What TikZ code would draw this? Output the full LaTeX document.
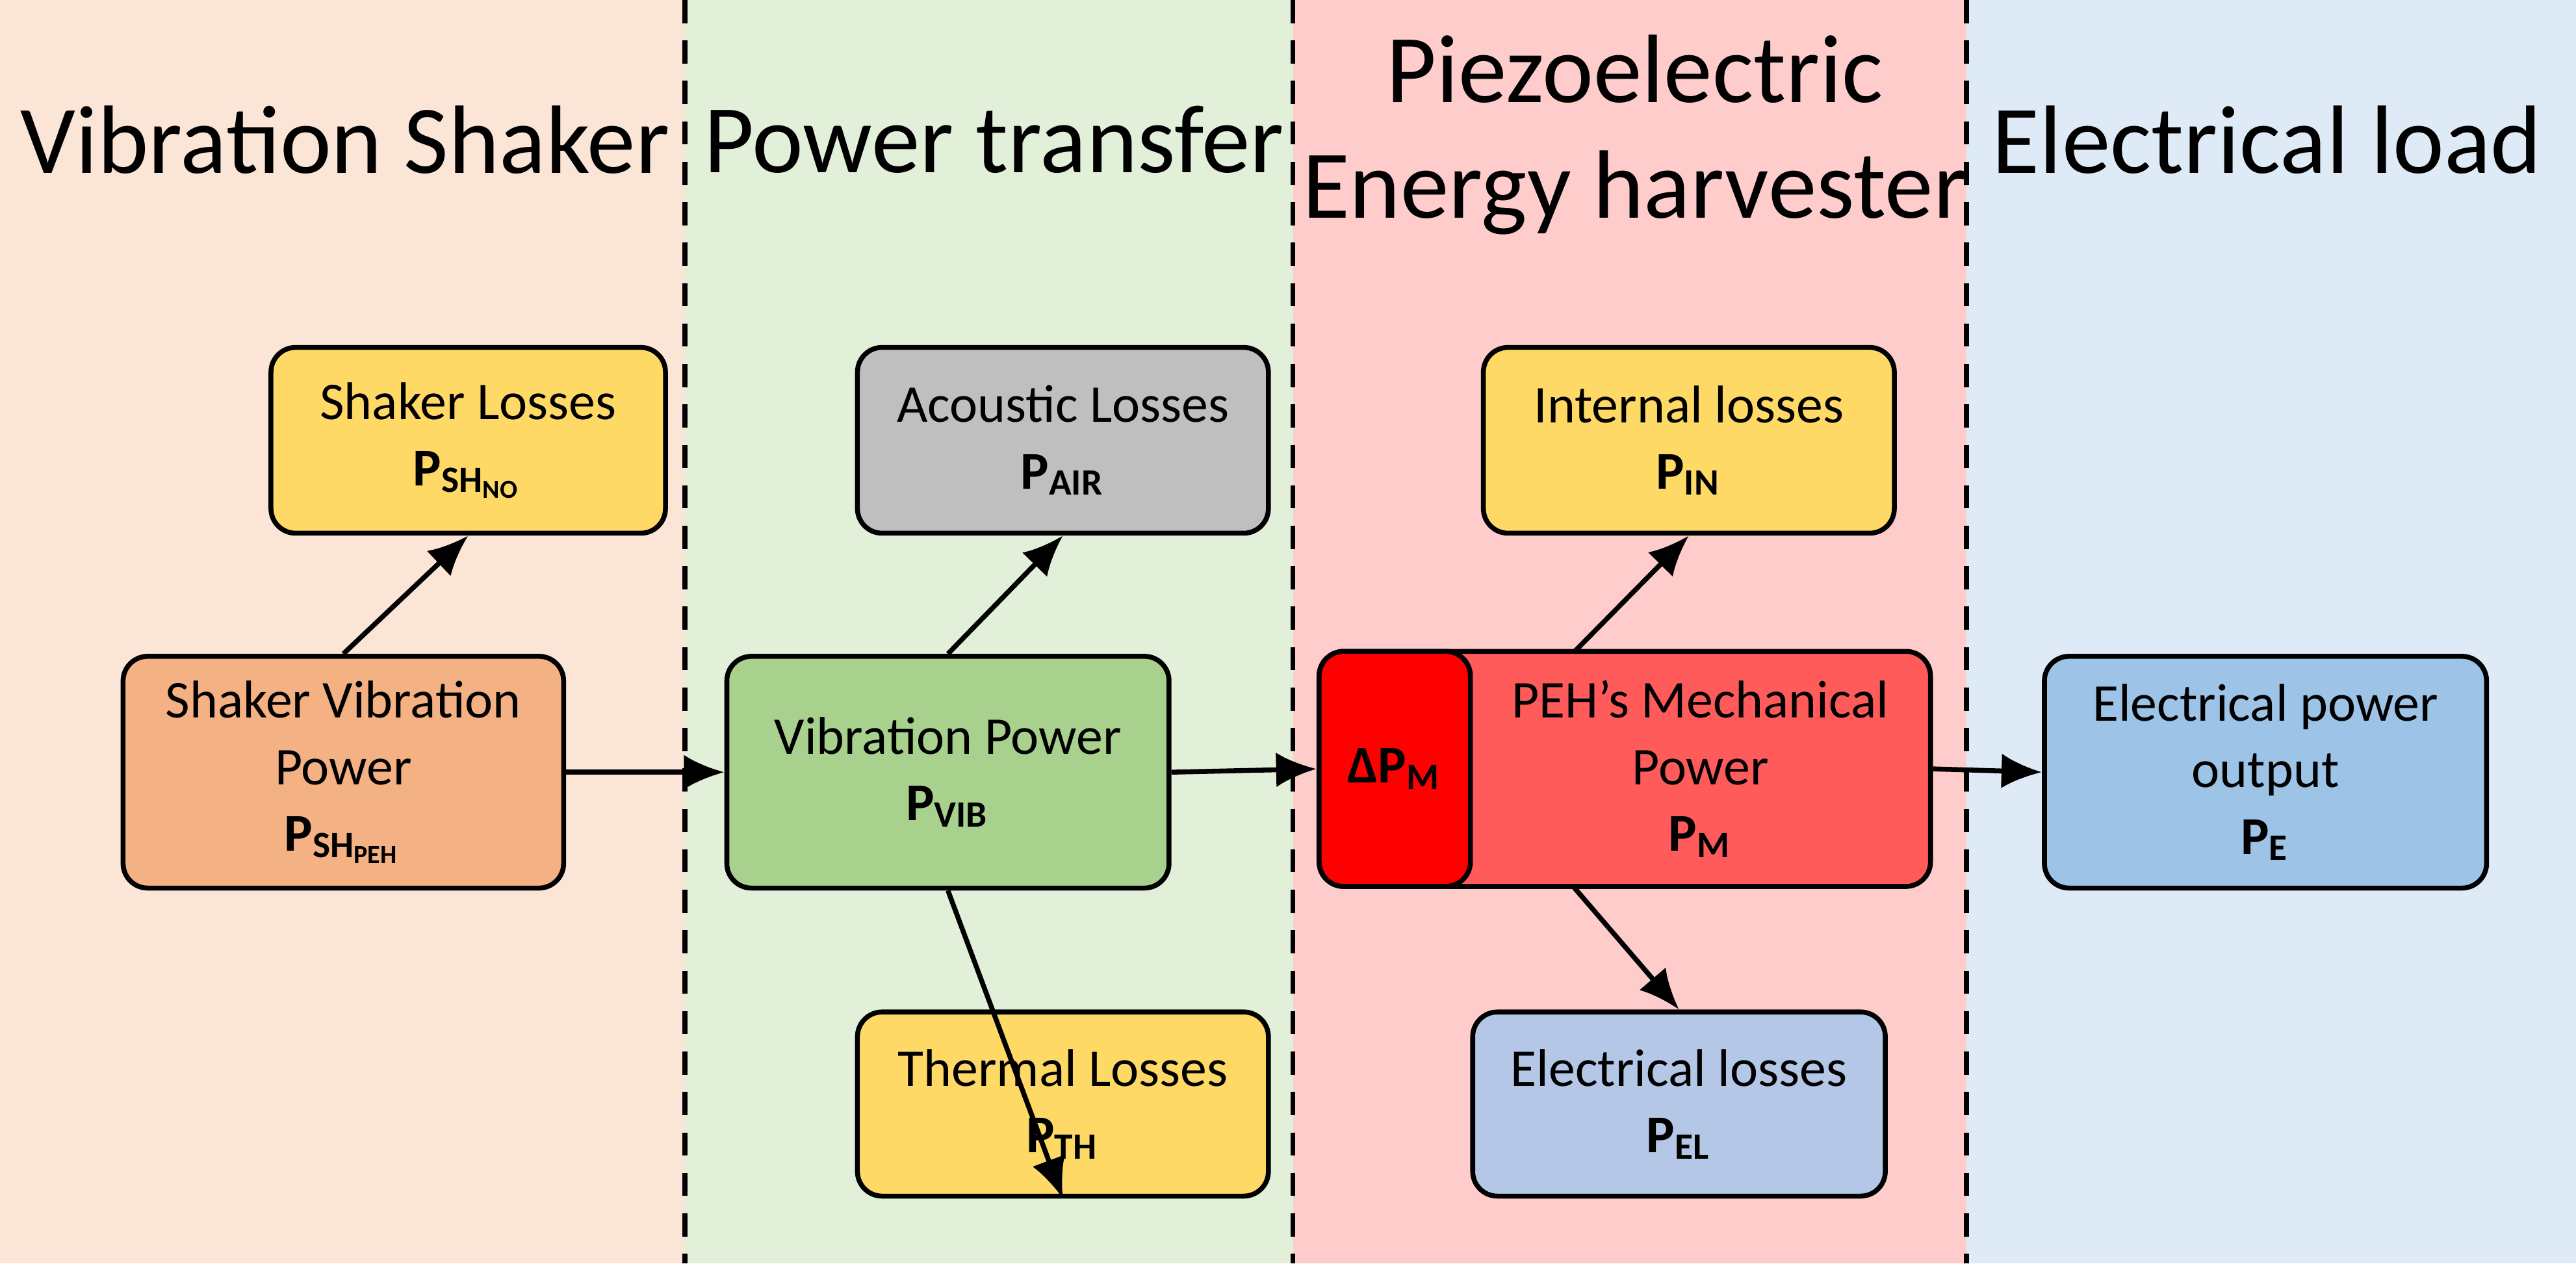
\documentclass[tikz,border=0pt]{standalone}
\usepackage{fontspec}
\setmainfont{Carlito}
\usetikzlibrary{arrows.meta}
\definecolor{bgA}{HTML}{FBE5D6}\definecolor{bgB}{HTML}{E2F0D9}
\definecolor{bgC}{HTML}{FFCCCC}\definecolor{bgD}{HTML}{DEEBF7}
\definecolor{yel}{HTML}{FFD966}\definecolor{ora}{HTML}{F4B183}
\definecolor{gry}{HTML}{BFBFBF}\definecolor{grn}{HTML}{A9D18E}
\definecolor{pnk}{HTML}{FF5B5B}\definecolor{rd}{HTML}{FF0000}
\definecolor{lbl}{HTML}{B4C7E7}\definecolor{mbl}{HTML}{9DC3E6}
\begin{document}
\begin{tikzpicture}[x=0.01cm,y=-0.01cm,
 box/.style={draw=black,line width=0.85pt,rounded corners=0.15cm,align=center,font=\fontsize{9.2}{11.5}\selectfont,inner sep=0pt},
 ttl/.style={font=\fontsize{16.8}{20}\selectfont,align=center},
 arr/.style={line width=0.85pt,-{Latex[length=7pt,width=6pt]}},
 sep/.style={line width=0.85pt,dash pattern=on 4pt off 3pt}]
\useasboundingbox (0,0) rectangle (1568,769);
\fill[bgA] (0,0) rectangle (417,769);
\fill[bgB] (417,0) rectangle (787,769);
\fill[bgC] (787,0) rectangle (1197,769);
\fill[bgD] (1197,0) rectangle (1568,769);
\draw[sep] (417,0) -- (417,769);
\draw[sep] (787,0) -- (787,769);
\draw[sep] (1197,0) -- (1197,769);
\node[ttl] (t1) at (210,85) {Vibration Shaker};
\node[ttl] (t2) at (605,85) {Power transfer};
\node[ttl] (t3) at (995,82) {Piezoelectric\\Energy harvester};
\node[ttl] (t4) at (1380,85) {Electrical load};

\node[box,fill=yel,minimum width=2.4cm,minimum height=1.13cm] (shl) at (285,268) {Shaker Losses\\\textbf{P\textsubscript{SH\textsubscript{NO}}}};
\node[box,fill=ora,minimum width=2.68cm,minimum height=1.41cm] (svp) at (209,470) {Shaker Vibration\\Power\\\textbf{P\textsubscript{SH\textsubscript{PEH}}}};
\node[box,fill=gry,minimum width=2.5cm,minimum height=1.13cm] (acl) at (647,268) {Acoustic Losses\\\textbf{P\textsubscript{AIR}}};
\node[box,fill=grn,minimum width=2.69cm,minimum height=1.41cm] (vib) at (577,470) {Vibration Power\\\textbf{P\textsubscript{VIB}}};
\node[box,fill=yel,minimum width=2.5cm,minimum height=1.12cm] (thl) at (647,672) {Thermal Losses\\\textbf{P\textsubscript{TH}}};
\node[box,fill=yel,minimum width=2.5cm,minimum height=1.13cm] (inl) at (1028,268) {Internal losses\\\textbf{P\textsubscript{IN}}};
\node[box,fill=pnk,minimum width=3.72cm,minimum height=1.43cm] (peh) at (989,468) {};
\node[box,fill=rd,minimum width=0.92cm,minimum height=1.43cm] (dpm) at (849,468) {\textbf{ΔP\textsubscript{M}}};
\node[align=center,font=\fontsize{9.2}{11.5}\selectfont] (pehl) at (1035,468) {PEH’s Mechanical\\Power\\\textbf{P\textsubscript{M}}};
\node[box,fill=lbl,minimum width=2.51cm,minimum height=1.12cm] (ell) at (1022,672) {Electrical losses\\\textbf{P\textsubscript{EL}}};
\node[box,fill=mbl,minimum width=2.69cm,minimum height=1.41cm] (epo) at (1379,470) {Electrical power\\output\\\textbf{P\textsubscript{E}}};

\draw[arr] (svp.east) -- (vib.west);
\draw[arr] (svp.north) -- (shl.south);
\draw[arr] (vib.east) -- (peh.west);
\draw[arr] (vib.north) -- (acl.south);
\draw[arr] (vib.south) -- (thl.south west -| acl.south) ;
\draw[arr] (peh.east) -- (epo.west);
\draw[arr] (958,397) -- (inl.south);
\draw[arr] (958,540) -- (ell.north);
\end{tikzpicture}
\end{document}
